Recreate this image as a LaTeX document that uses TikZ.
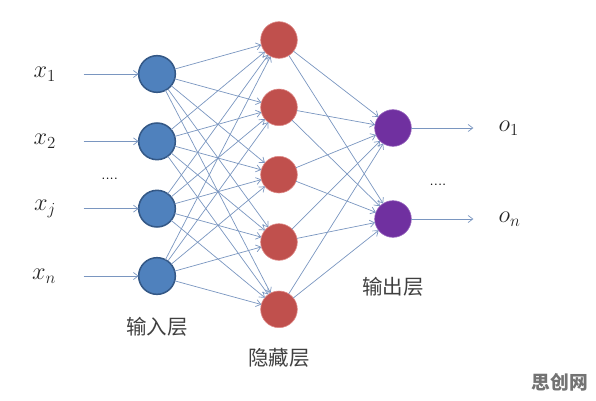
\documentclass[tikz,border=0pt]{standalone}
\usepackage{fontspec}
\newfontfamily\cjk{Noto Sans CJK SC}
\usepackage{xcolor}
\usepackage{tikz}
\usetikzlibrary{arrows.meta, positioning, calc}

\definecolor{inblue}{RGB}{79,129,189}
\definecolor{inedge}{RGB}{52,88,134}
\definecolor{hidred}{RGB}{192,80,77}
\definecolor{hidedge}{RGB}{222,138,136}
\definecolor{outpurple}{RGB}{112,48,160}
\definecolor{outedge}{RGB}{150,100,190}
\definecolor{linkblue}{RGB}{122,150,192}

\begin{document}
\begin{tikzpicture}[
    x=0.03cm, y=-0.03cm,
    node distance=0.92cm,
    inode/.style={circle, fill=inblue, draw=inedge, line width=1.3pt, minimum size=1.1cm, inner sep=0pt, outer sep=0pt},
    hnode/.style={circle, fill=hidred, draw=hidedge, line width=0.5pt, minimum size=1.1cm, inner sep=0pt, outer sep=0pt},
    onode/.style={circle, fill=outpurple, draw=outedge, line width=0.5pt, minimum size=1.1cm, inner sep=0pt, outer sep=0pt},
    var/.style={inner sep=0pt, text=black!85, font=\fontsize{20}{24}\selectfont},
    layer/.style={inner sep=0pt, text=black!75, font=\cjk\fontsize{17.5}{20}\selectfont},
    dots/.style={inner sep=0pt, font=\fontsize{13}{15}\selectfont},
    arr/.style={-{Straight Barb[length=4pt, width=6pt]}, line width=0.6pt, color=linkblue}
]
\useasboundingbox (0,0) rectangle (596,401);

% input layer
\node[inode] (i1) at (157,74) {};
\node[inode, below=of i1] (i2) {};
\node[inode, below=of i2] (i3) {};
\node[inode, below=of i3] (i4) {};

% hidden layer
\node[hnode] (h1) at (279,40) {};
\node[hnode, below=of h1] (h2) {};
\node[hnode, below=of h2] (h3) {};
\node[hnode, below=of h3] (h4) {};
\node[hnode, below=of h4] (h5) {};

% output layer
\node[onode] (o1) at (393,128) {};
\node[onode, below=1.63cm of o1] (o2) {};

% inputs
\coordinate[left=1.65cm of i1] (s1);
\coordinate[left=1.65cm of i2] (s2);
\coordinate[left=1.65cm of i3] (s3);
\coordinate[left=1.65cm of i4] (s4);
\node[var, left=0.82cm of s1] (x1) {$x_1$};
\node[var, left=0.82cm of s2] (x2) {$x_2$};
\node[var, left=0.82cm of s3] (xj) {$x_j$};
\node[var, left=0.82cm of s4] (xn) {$x_n$};
\node[dots] (ldots) at ($(s2)!0.55!(s3)+(0.78cm,0)$) {....};

% outputs
\coordinate[right=1.86cm of o1] (e1);
\coordinate[right=1.86cm of o2] (e2);
\node[var, right=0.75cm of e1] (y1) {$o_1$};
\node[var, right=0.75cm of e2] (yn) {$o_n$};
\node[dots] (rdots) at ($(o1)!0.62!(o2)+(1.35cm,0)$) {....};

% layer names
\node[layer, below=0.67cm of i4] (inl) {输入层};
\node[layer, below=0.6cm of h5] (hidl) {隐藏层};
\node[layer, below=1.2cm of o2] (outl) {输出层};
\node[font=\cjk\bfseries\fontsize{16}{18}\selectfont, text=black!55, inner sep=0pt] (mark) at (560,382) {思创网};

% connections
\draw[arr] (s1) -- (i1);
\draw[arr] (s2) -- (i2);
\draw[arr] (s3) -- (i3);
\draw[arr] (s4) -- (i4);
\foreach \a in {1,...,4}
  \foreach \b in {1,...,5}
    \draw[arr] (i\a) -- (h\b);
\foreach \b in {1,...,5}
  \foreach \c in {1,2}
    \draw[arr] (h\b) -- (o\c);
\draw[arr] (o1) -- (e1);
\draw[arr] (o2) -- (e2);

\end{tikzpicture}
\end{document}
